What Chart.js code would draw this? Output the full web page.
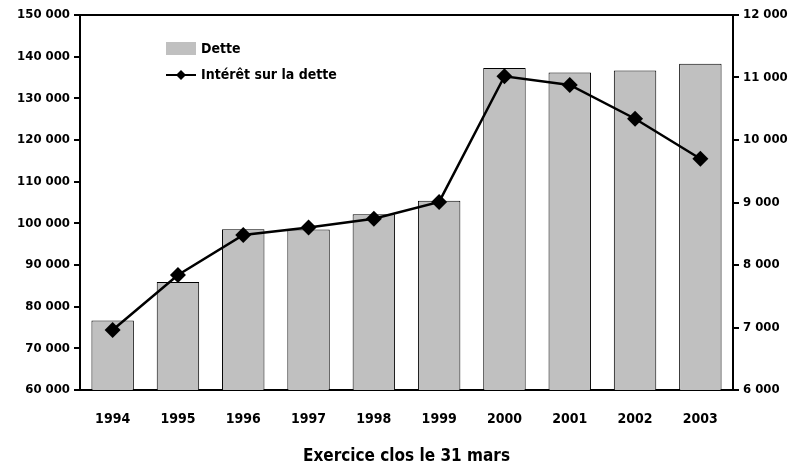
<!DOCTYPE html>
<html>
<head>
<meta charset="utf-8">
<script src="https://cdn.jsdelivr.net/npm/chart.js@4/dist/chart.umd.min.js"></script>
<style>
  html, body { margin: 0; padding: 0; background: #fff; }
  #wrap { width: 792px; height: 467px; }
</style>
</head>
<body>
<div id="wrap"><canvas id="c" width="792" height="467"></canvas></div>
<script>
const years = ['1994', '1995', '1996', '1997', '1998', '1999', '2000', '2001', '2002', '2003'];
const dette = [76700, 85900, 98600, 98500, 102200, 105400, 137300, 136200, 136700, 138300];
const interet = [6960, 7840, 8480, 8600, 8740, 9010, 11020, 10880, 10340, 9700];
const leftTicks = [60000, 150000, 10000];
const rightTicks = [6000, 12000, 1000];

const FONT = '"Liberation Sans Narrow", "DejaVu Sans Condensed", Arial, sans-serif';

function fmt(v) {
    return String(v).replace(/\B(?=(\d{3})+(?!\d))/g, ' ');
}

// top border of the plot + legend inside the plot area
const frame = {
    id: 'frame',
    afterDraw(chart) {
        const ctx = chart.ctx;
        const a = chart.chartArea;
        ctx.save();
        ctx.strokeStyle = '#000';
        ctx.lineWidth = 2;
        ctx.beginPath();
        ctx.moveTo(a.left, a.top);
        ctx.lineTo(a.right, a.top);
        ctx.stroke();

        ctx.font = 'bold 14px ' + FONT;
        ctx.textBaseline = 'middle';
        ctx.fillStyle = '#c0c0c0';
        ctx.fillRect(166, 42, 30, 13);
        ctx.fillStyle = '#000';
        ctx.fillText('Dette', 201, 49);

        ctx.lineWidth = 2;
        ctx.beginPath();
        ctx.moveTo(166, 75);
        ctx.lineTo(196, 75);
        ctx.stroke();
        ctx.beginPath();
        ctx.moveTo(181, 70);
        ctx.lineTo(186, 75);
        ctx.lineTo(181, 80);
        ctx.lineTo(176, 75);
        ctx.closePath();
        ctx.fill();
        ctx.fillText('Intérêt sur la dette', 201, 75);
        ctx.restore();
    }
};

new Chart(document.getElementById('c').getContext('2d'), {
    data: {
        labels: years,
        datasets: [{
                type: 'line',
                label: 'Intérêt sur la dette',
                data: interet,
                yAxisID: 'y2',
                borderColor: '#000',
                backgroundColor: '#000',
                borderWidth: 2.5,
                pointStyle: 'rectRot',
                pointRadius: 8,
                pointBorderWidth: 0,
                tension: 0,
                order: 0
            }, {
                type: 'bar',
                label: 'Dette',
                data: dette,
                yAxisID: 'y',
                backgroundColor: '#c0c0c0',
                borderColor: '#000',
                borderWidth: 1,
                barPercentage: 0.65,
                categoryPercentage: 1,
                order: 1
            }]
    },
    plugins: [frame],
    options: {
        responsive: false,
        animation: false,
        layout: { padding: { top: 15, right: 0, left: 0, bottom: 0 } },
        plugins: {
            legend: { display: false },
            tooltip: { enabled: false }
        },
        scales: {
            x: {
                grid: { display: false },
                border: { display: true, color: '#000', width: 2 },
                ticks: { color: '#000', font: { family: FONT, size: 14, weight: 'bold' }, padding: 13 },
                title: {
                    display: true,
                    text: 'Exercice clos le 31 mars',
                    color: '#000',
                    font: { family: FONT, size: 17, weight: 'bold' },
                    padding: { top: 0, bottom: 0 }
                },
                afterFit(scale) { scale.height = 77; }
            },
            y: {
                position: 'left',
                min: leftTicks[0],
                max: leftTicks[1],
                ticks: {
                    stepSize: leftTicks[2],
                    color: '#000',
                    font: { family: FONT, size: 13, weight: 'bold' },
                    padding: 4,
                    callback: v => fmt(v)
                },
                grid: { drawOnChartArea: false, color: '#000', tickLength: 6, lineWidth: 2 },
                border: { display: true, color: '#000', width: 2 },
                afterFit(scale) { scale.width = 80; }
            },
            y2: {
                position: 'right',
                min: rightTicks[0],
                max: rightTicks[1],
                ticks: {
                    stepSize: rightTicks[2],
                    color: '#000',
                    font: { family: FONT, size: 13, weight: 'bold' },
                    padding: 4,
                    callback: v => fmt(v)
                },
                grid: { drawOnChartArea: false, color: '#000', tickLength: 6, lineWidth: 2 },
                border: { display: true, color: '#000', width: 2 },
                afterFit(scale) { scale.width = 59; }
            }
        }
    }
});
</script>
</body>
</html>
